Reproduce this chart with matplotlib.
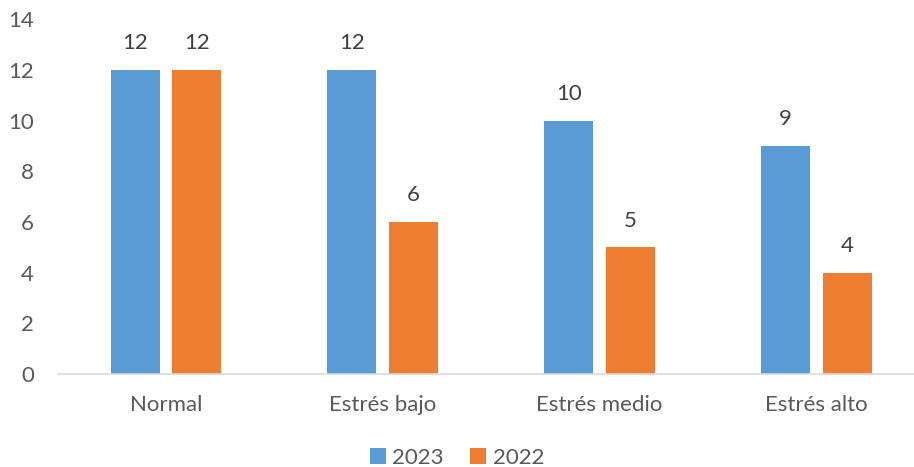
import numpy as np
import matplotlib.pyplot as plt

categories = ["Normal", "Estrés bajo", "Estrés medio", "Estrés alto"]
values_2023 = [12, 12, 10, 9]
values_2022 = [12, 6, 5, 4]
series_names = ["2023", "2022"]
yticks = [0, 2, 4, 6, 8, 10, 12, 14]

blue = "#5B9BD5"
orange = "#ED7D31"
gray = "#595959"

plt.rcParams['font.family'] = ['Lato', 'DejaVu Sans']

fig = plt.figure(figsize=(9.14, 4.67), dpi=100)
ax = fig.add_axes([0.063, 0.199, 0.9487, 0.7595])

x = np.arange(len(categories))
w = 0.226
off = 0.142
b1 = ax.bar(x - off, values_2023, w, color=blue, label=series_names[0])
b2 = ax.bar(x + off, values_2022, w, color=orange, label=series_names[1])

# etiquetas de datos
for bars in (b1, b2):
    for rect in bars:
        h = rect.get_height()
        ax.annotate(f"{h:g}", (rect.get_x() + rect.get_width() / 2, h),
                    xytext=(0, 12), textcoords="offset points",
                    ha="center", va="bottom", fontsize=16, color="#404040")

ax.set_xlim(-0.5, len(categories) - 0.5)
ax.set_ylim(0, 14)
ax.set_yticks(yticks)
ax.set_xticks(x)
ax.set_xticklabels(categories)
ax.tick_params(axis="both", length=0, labelsize=16, labelcolor=gray)
ax.tick_params(axis="x", pad=15)
ax.tick_params(axis="y", pad=17)

for s in ["top", "right", "left"]:
    ax.spines[s].set_visible(False)
ax.spines["bottom"].set_color("#D9D9D9")
ax.spines["bottom"].set_linewidth(1.2)

leg = fig.legend(loc="center", bbox_to_anchor=(0.5, 0.02), ncol=2, frameon=False,
                 fontsize=16, handlelength=0.7, handleheight=0.7,
                 handletextpad=0.3, columnspacing=1.2, labelcolor=gray)

fig.savefig("out.png", dpi=100)
